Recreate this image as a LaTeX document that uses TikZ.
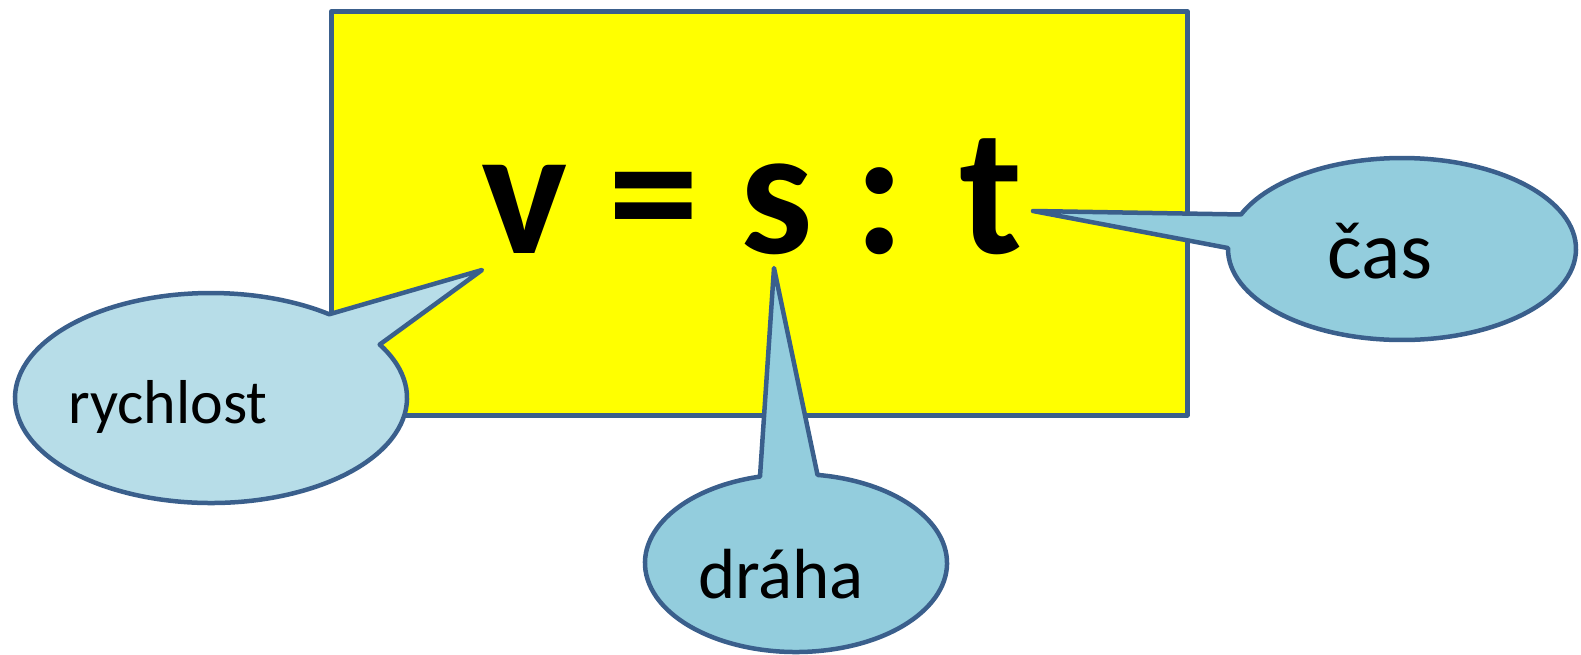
\documentclass[tikz,border=0pt]{standalone}
\usepackage{fontspec}
\setmainfont{Carlito}
\usetikzlibrary{calc}
\definecolor{edge}{HTML}{3A5F8C}
\definecolor{paleblue}{HTML}{B7DDE8}
\definecolor{midblue}{HTML}{93CDDD}
\definecolor{boxyellow}{RGB}{255,255,0}
\begin{document}
\begin{tikzpicture}[x=1pt,y=1pt,
  outline/.style={draw=edge, line width=4.5pt, line join=round},
  label/.style={anchor=base, inner sep=0pt}]
\useasboundingbox (0,0) rectangle (1581,-654);
% yellow box
\node[outline, fill=boxyellow, minimum width=856pt, minimum height=404pt, inner sep=0pt, anchor=north west] (box) at (329,-9) {};
% rychlost callout
\coordinate (rc) at (211,-398);
\coordinate (rtip) at (482,-270);
\draw[outline, fill=paleblue] ($(rc)+(52.9:196 and 105)$) -- (rtip) -- ($(rc)+(30.6:196 and 105)$)
  arc[start angle=30.6, end angle=-307.1, x radius=196, y radius=105] -- cycle;
% draha callout
\coordinate (dc) at (796,-563);
\coordinate (dtip) at (774,-268);
\draw[outline, fill=midblue] ($(dc)+(81.8:151 and 89)$) -- (dtip) -- ($(dc)+(103.8:151 and 89)$)
  arc[start angle=103.8, end angle=441.8, x radius=151, y radius=89] -- cycle;
% cas callout
\coordinate (cc) at (1402,-249);
\coordinate (ctip) at (1033,-211);
\draw[outline, fill=midblue] ($(cc)+(157.7:174 and 91)$) -- (ctip) -- ($(cc)+(179.4:174 and 91)$)
  arc[start angle=179.4, end angle=517.7, x radius=174, y radius=91] -- cycle;
% texts
\node[label, font=\fontsize{62}{70}\selectfont] (rt) at (168,-423) {rychlost};
\node[label, font=\fontsize{71}{80}\selectfont] (dt) at (781,-598) {dráha};
\node[label, font=\fontsize{82}{90}\selectfont] (ct) at (1380,-278) {čas};
\node[label, font=\bfseries\fontsize{182}{190}\selectfont] (eq) at (752,-253) {v = s : t};
\end{tikzpicture}
\end{document}
